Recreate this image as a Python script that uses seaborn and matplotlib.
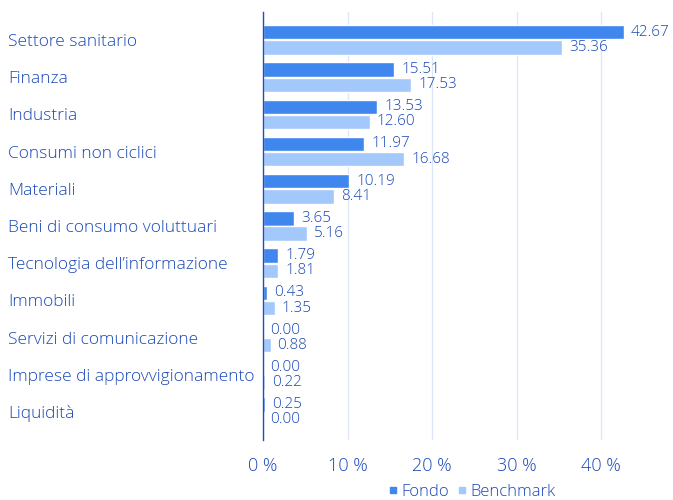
import matplotlib
matplotlib.use("Agg")
import matplotlib.pyplot as plt
import pandas as pd
import seaborn as sns

SECTORS = [
    "Settore sanitario", "Finanza", "Industria", "Consumi non ciclici",
    "Materiali", "Beni di consumo voluttuari", "Tecnologia dell\u2019informazione",
    "Immobili", "Servizi di comunicazione", "Imprese di approvvigionamento",
    "Liquidità",
]
FONDO = [42.67, 15.51, 13.53, 11.97, 10.19, 3.65, 1.79, 0.43, 0.00, 0.00, 0.25]
BENCHMARK = [35.36, 17.53, 12.60, 16.68, 8.41, 5.16, 1.81, 1.35, 0.88, 0.22, 0.00]
SERIES = ["Fondo", "Benchmark"]
XTICKS = [0, 10, 20, 30, 40]

TEXT = "#1a48b8"
COLORS = {"Fondo": "#3f87ee", "Benchmark": "#a3c8fb"}

df = pd.DataFrame({
    "sector": SECTORS * 2,
    "series": ["Fondo"] * len(SECTORS) + ["Benchmark"] * len(SECTORS),
    "value": FONDO + BENCHMARK,
})

sns.set_style("white")
plt.rcParams["font.family"] = ["Open Sans", "DejaVu Sans"]

fig = plt.figure(figsize=(6.73, 5.0), dpi=100)
ax = fig.add_axes([0.391, 0.12, 0.59, 0.856])
sns.barplot(data=df, y="sector", x="value", hue="series", hue_order=SERIES,
            palette=COLORS, orient="h", width=0.82, gap=0.06, ax=ax,
            legend=False, errorbar=None, saturation=1)

for cont in ax.containers:
    ax.bar_label(cont, fmt="%.2f", padding=5, fontsize=11, color=TEXT,
                 fontweight="light")

ax.set_xlim(0, 47)
ax.set_ylim(len(SECTORS) - 0.25, -0.75)
ax.set_xticks(XTICKS)
ax.set_xticklabels([f"{t} %" for t in XTICKS], fontsize=13, color=TEXT,
                   fontweight="light")
ax.tick_params(axis="x", length=0, pad=12)
ax.tick_params(axis="y", length=0, pad=0)
ax.set_yticks(range(len(SECTORS)))
ax.set_yticklabels(SECTORS, fontsize=12.5, color=TEXT, ha="left",
                   fontweight="light")
for lab in ax.get_yticklabels():
    lab.set_x(-0.379 / 0.59)
ax.set_xlabel("")
ax.set_ylabel("")
ax.xaxis.grid(True, color="#dce8fa", linewidth=1)
ax.set_axisbelow(True)
for s in ["top", "right", "bottom"]:
    ax.spines[s].set_visible(False)
ax.spines["left"].set_color("#1f4fbf")
ax.spines["left"].set_linewidth(1)

handles = [plt.Line2D([], [], marker="s", linestyle="", markersize=4,
                      color=COLORS[s]) for s in SERIES]
fig.legend(handles, SERIES, loc="center", bbox_to_anchor=(0.70, 0.016),
           ncol=2, frameon=False, labelcolor=TEXT,
           prop={"weight": "light", "size": 12},
           handletextpad=0.1, columnspacing=0.4, handlelength=0.8)

fig.savefig("out.png", dpi=100)
